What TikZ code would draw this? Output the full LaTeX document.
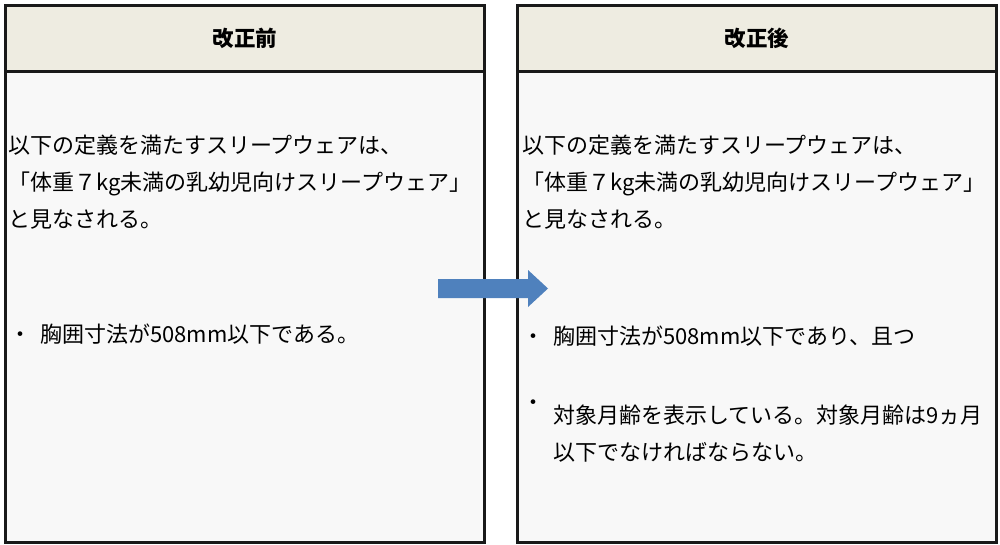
\documentclass[tikz,border=0pt]{standalone}
\usepackage{fontspec}
\setmainfont{Noto Sans CJK JP}
\usetikzlibrary{positioning}
\definecolor{headbeige}{RGB}{238,236,225}
\definecolor{panelgray}{RGB}{248,248,248}
\definecolor{arrowblue}{RGB}{79,129,189}

\begin{document}
\begin{tikzpicture}[x=1pt, y=-1pt,
    panel/.style={rectangle, draw=black!90, line width=3pt, fill=panelgray, minimum width=479pt, minimum height=537pt, anchor=north west, inner sep=0pt},
    head/.style={rectangle, draw=black!90, line width=3pt, fill=headbeige, minimum width=479pt, minimum height=66pt, anchor=north west, inner sep=0pt, font=\fontsize{21.5}{24}\selectfont\bfseries},
    body/.style={anchor=west, align=left, inner sep=0pt, font=\fontsize{22}{37}\selectfont}
]
\useasboundingbox (0,0) rectangle (1000,545);

% before
\node[panel] (before) at (4,4) {};
\node[head] (beforehead) at (4,4) {改正前};
\node[body] (beforedef) at (8,182) {以下の定義を満たすスリープウェアは、\\「体重７kg未満の乳幼児向けスリープウェア」\\と見なされる。};
\node[body] (beforechest) at (9,334) {・\hspace{9pt}胸囲寸法が508mm以下である。};

% after
\node[panel] (after) at (516,4) {};
\node[head] (afterhead) at (516,4) {改正後};
\node[body] (afterdef) at (522,182) {以下の定義を満たすスリープウェアは、\\「体重７kg未満の乳幼児向けスリープウェア」\\と見なされる。};
\node[body] (afterchest) at (522,336) {・\hspace{9pt}胸囲寸法が508mm以下であり、且つ};
\node[body] (afterdot) at (522,405) {・};
\node[body] (afterage) at (553,434) {対象月齢を表示している。対象月齢は9ヵ月\\以下でなければならない。};

\fill[arrowblue] (438,279) -- (528,279) -- (528,270) -- (548,288.5) -- (528,307) -- (528,298) -- (438,298) -- cycle;
\end{tikzpicture}
\end{document}
